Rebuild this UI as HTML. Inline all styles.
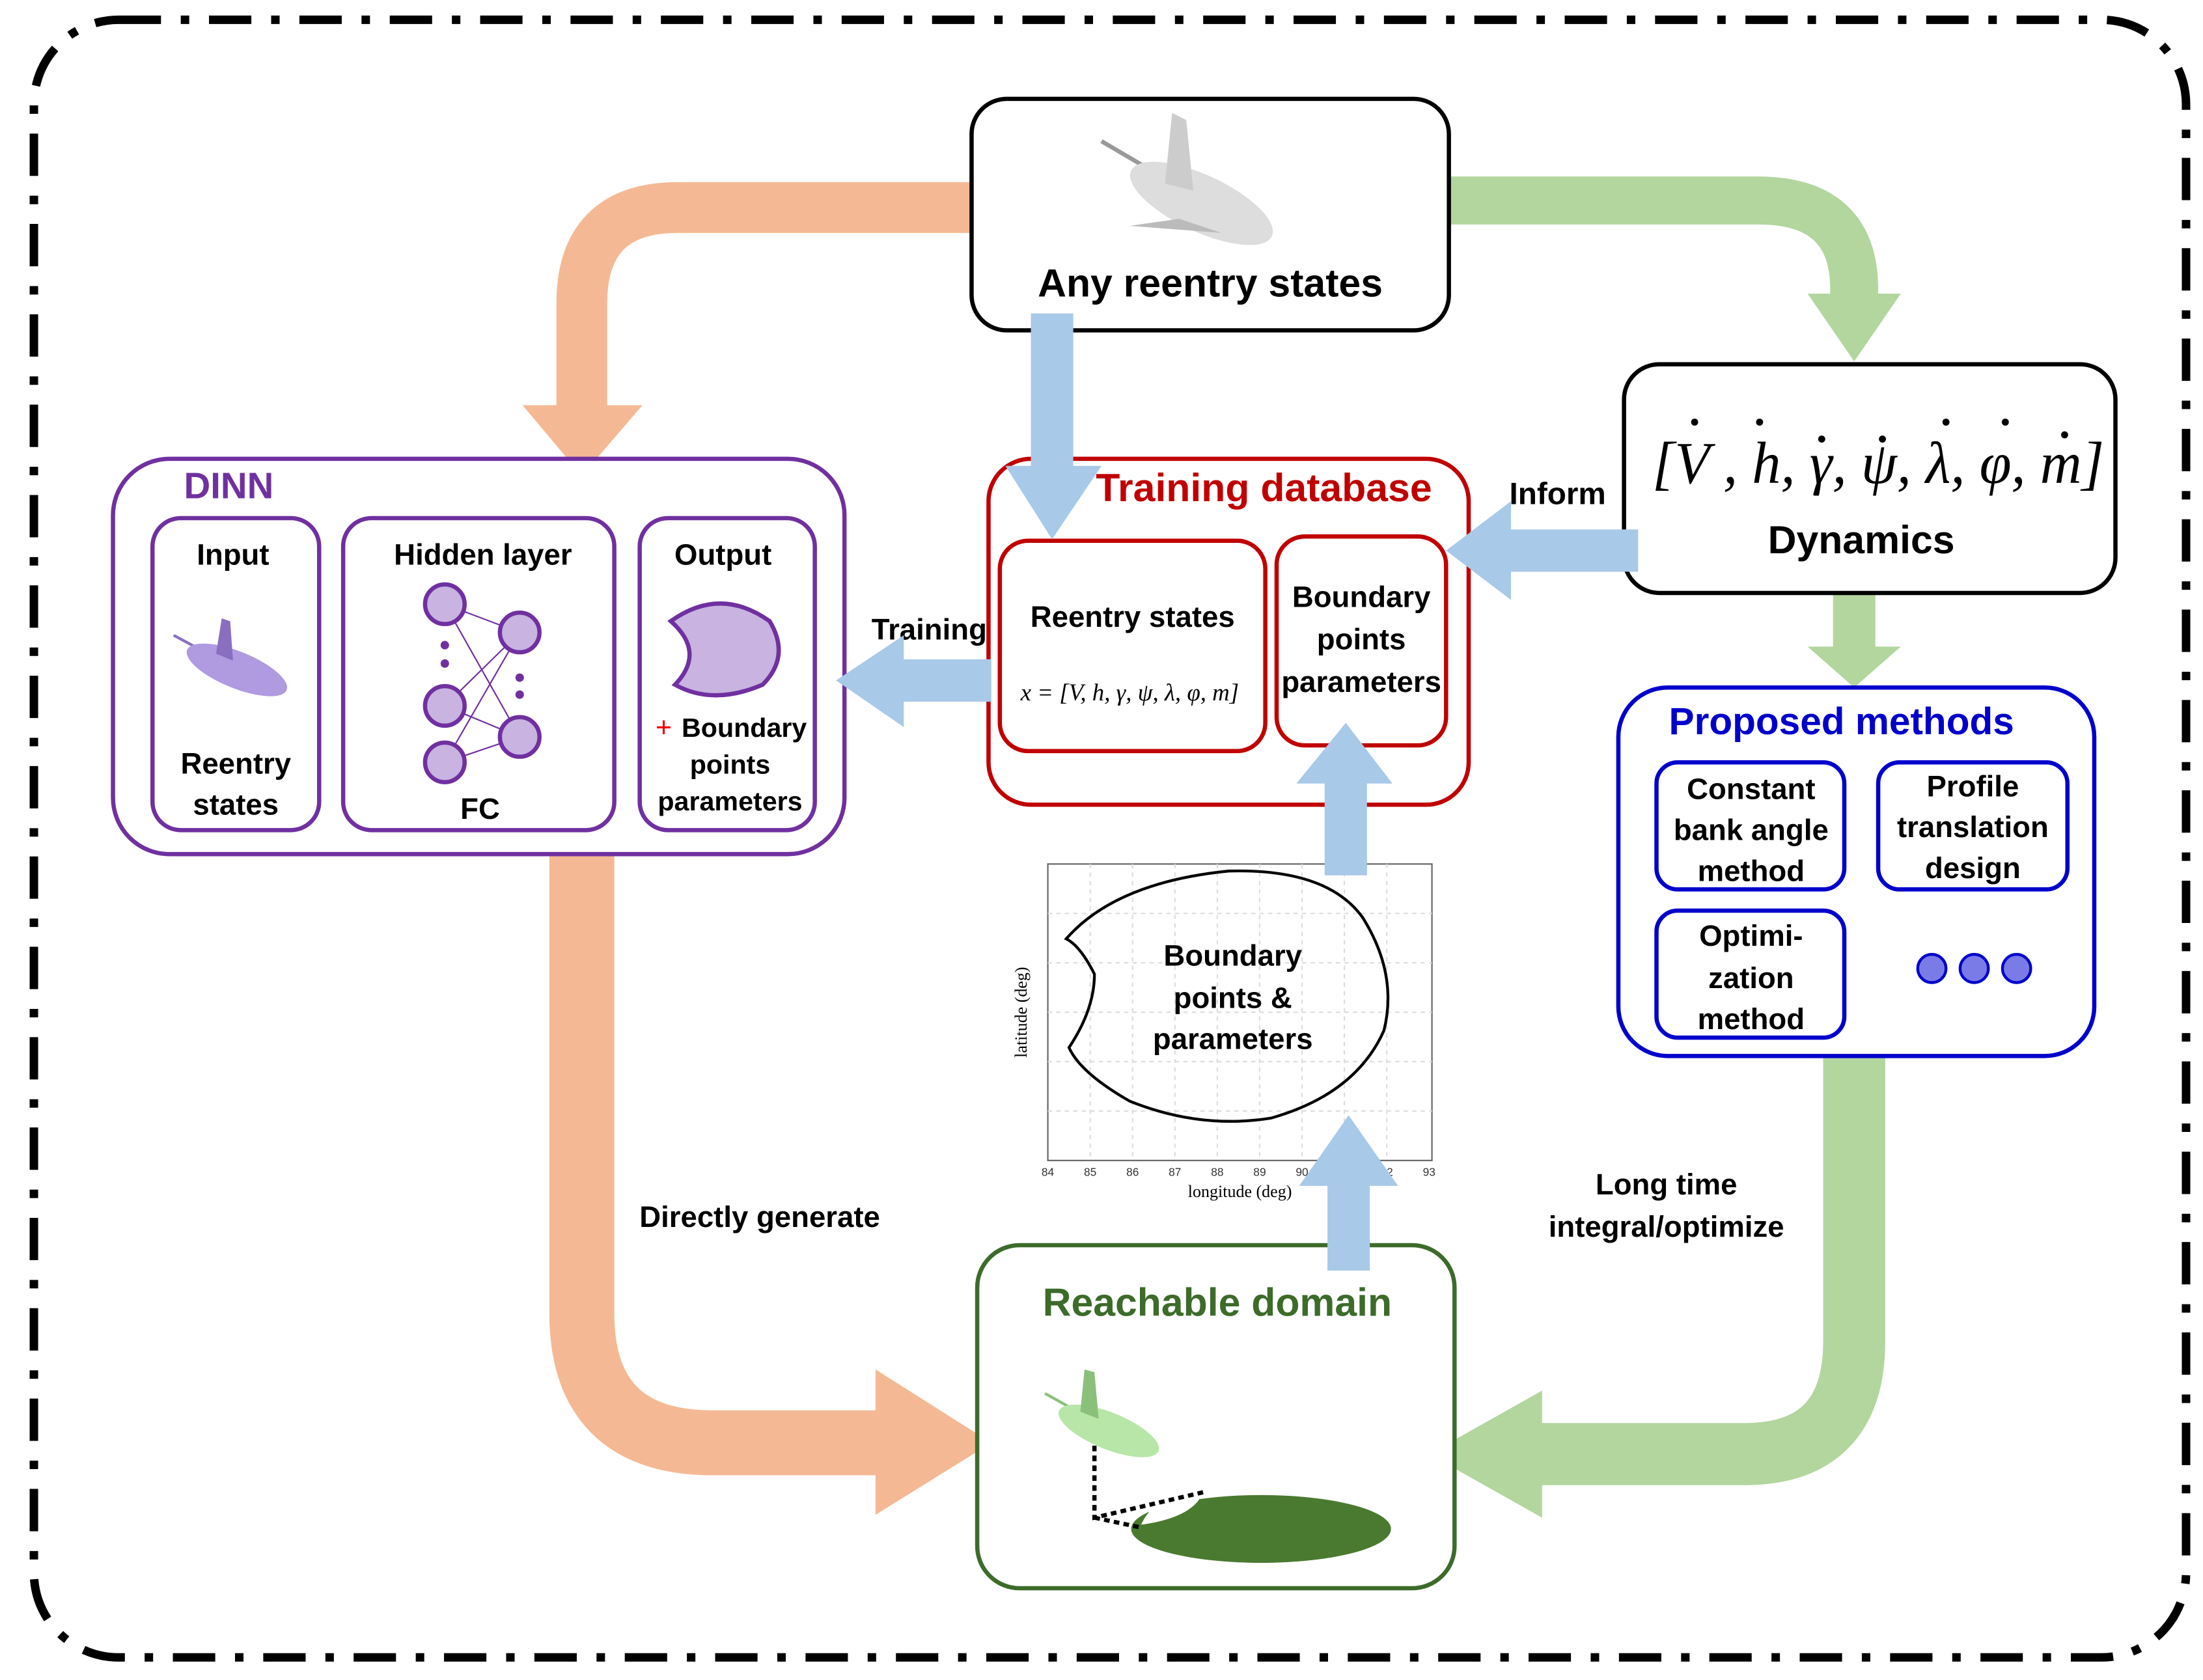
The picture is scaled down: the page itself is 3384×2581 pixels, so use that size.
<!DOCTYPE html>
<html><head><meta charset="utf-8"><style>
html,body{margin:0;padding:0;background:#fff}
svg{display:block}
text{font-family:"Liberation Sans",sans-serif}
</style></head><body>
<svg width="3384" height="2581" viewBox="0 0 1560 1190" preserveAspectRatio="none" xmlns="http://www.w3.org/2000/svg">
<rect x="24" y="14" width="1524" height="1160" rx="60" fill="none" stroke="#000" stroke-width="6" stroke-dasharray="30,14,6,14"/>

<!-- orange arrows -->
<path d="M708,147 H480 Q412,147 412,215 V292" fill="none" stroke="#f4b994" stroke-width="36"/>
<polygon points="370,287 455,287 412,337" fill="#f4b994"/>
<path d="M412,600 V930 Q412,1022 505,1022 H625" fill="none" stroke="#f4b994" stroke-width="46"/>
<polygon points="620,970 620,1073 702,1022" fill="#f4b994"/>

<!-- green arrows -->
<path d="M1008,142 H1245 Q1313,142 1313,205 V212" fill="none" stroke="#b3d69f" stroke-width="34"/>
<polygon points="1280,208 1346,208 1313,256" fill="#b3d69f"/>
<path d="M1313,418 V462" fill="none" stroke="#b3d69f" stroke-width="30"/>
<polygon points="1280,458 1346,458 1313,487" fill="#b3d69f"/>
<path d="M1313,735 V950 Q1313,1030 1235,1030 H1085" fill="none" stroke="#b3d69f" stroke-width="44"/>
<polygon points="1092,985 1092,1075 1012,1030" fill="#b3d69f"/>

<!-- top box -->
<rect x="688" y="70" width="338" height="164" rx="25" fill="#fff" stroke="#000" stroke-width="3"/>
<g transform="translate(855,135)">
<path d="M-75,-35 L10,15" stroke="#999" stroke-width="3"/>
<ellipse cx="0" cy="10" rx="55" ry="20" fill="#ddd" transform="rotate(25)"/>
<polygon points="-30,-5 -25,-55 -15,-50 -10,0" fill="#ccc"/>
<polygon points="-20,20 -55,25 10,30" fill="#bbb"/>
</g>
<text x="857" y="210" font-size="28" font-weight="bold" text-anchor="middle">Any reentry states</text>

<!-- dynamics -->
<rect x="1150" y="258" width="348" height="162" rx="25" fill="#fff" stroke="#000" stroke-width="3"/>
<text x="1170" y="342" font-size="42" font-style="italic" textLength="320" lengthAdjust="spacingAndGlyphs" style="font-family:'Liberation Serif',serif">[V , h, γ, ψ, λ, φ, m]</text>
<g fill="#000"><circle cx="1200" cy="299" r="2.5"/><circle cx="1246" cy="299" r="2.5"/><circle cx="1290" cy="311" r="2.5"/><circle cx="1333" cy="311" r="2.5"/><circle cx="1378" cy="299" r="2.5"/><circle cx="1420" cy="299" r="2.5"/><circle cx="1462" cy="308" r="2.5"/></g>
<text x="1318" y="392" font-size="28" font-weight="bold" text-anchor="middle">Dynamics</text>
<text x="1103" y="357" font-size="22" font-weight="bold" text-anchor="middle">Inform</text>

<!-- training db -->
<rect x="700" y="325" width="340" height="245" rx="30" fill="#fff" stroke="#c00000" stroke-width="3"/>
<text x="895" y="355" font-size="28" font-weight="bold" fill="#c00000" text-anchor="middle">Training database</text>
<rect x="708" y="383" width="188" height="149" rx="20" fill="none" stroke="#c00000" stroke-width="3"/>
<text x="802" y="444" font-size="21" font-weight="bold" text-anchor="middle">Reentry states</text>
<text x="800" y="496" font-size="17" font-style="italic" text-anchor="middle" style="font-family:'Liberation Serif',serif">x = [V, h, γ, ψ, λ, φ, m]</text>
<rect x="904" y="380" width="120" height="148" rx="20" fill="none" stroke="#c00000" stroke-width="3"/>
<text x="964" y="430" font-size="21" font-weight="bold" text-anchor="middle">Boundary</text>
<text x="964" y="460" font-size="21" font-weight="bold" text-anchor="middle">points</text>
<text x="964" y="490" font-size="21" font-weight="bold" text-anchor="middle">parameters</text>
<text x="658" y="453" font-size="21" font-weight="bold" text-anchor="middle">Training</text>

<!-- DINN -->
<rect x="80" y="325" width="518" height="280" rx="40" fill="#fff" stroke="#7030a0" stroke-width="3"/>
<text x="162" y="353" font-size="26" font-weight="bold" fill="#7030a0" text-anchor="middle">DINN</text>
<rect x="108" y="367" width="118" height="221" rx="20" fill="none" stroke="#7030a0" stroke-width="3"/>
<rect x="243" y="367" width="192" height="221" rx="20" fill="none" stroke="#7030a0" stroke-width="3"/>
<rect x="453" y="367" width="124" height="221" rx="20" fill="none" stroke="#7030a0" stroke-width="3"/>
<text x="165" y="400" font-size="21" font-weight="bold" text-anchor="middle">Input</text>
<text x="167" y="548" font-size="21" font-weight="bold" text-anchor="middle">Reentry</text>
<text x="167" y="577" font-size="21" font-weight="bold" text-anchor="middle">states</text>
<g transform="translate(165,468)">
<path d="M-42,-18 L10,10" stroke="#8a6fc0" stroke-width="2"/>
<ellipse cx="5" cy="5" rx="38" ry="13" fill="#b09ae0" transform="rotate(22)"/>
<polygon points="-12,-5 -8,-30 -2,-28 0,0" fill="#8a6fc0"/>
</g>
<text x="342" y="400" font-size="21" font-weight="bold" text-anchor="middle">Hidden layer</text>
<g stroke="#7030a0" stroke-width="1">
<line x1="315" y1="428" x2="368" y2="448"/><line x1="315" y1="428" x2="368" y2="522"/>
<line x1="315" y1="500" x2="368" y2="448"/><line x1="315" y1="500" x2="368" y2="522"/>
<line x1="315" y1="540" x2="368" y2="448"/><line x1="315" y1="540" x2="368" y2="522"/>
</g>
<g fill="#c9b3e0" stroke="#7030a0" stroke-width="3">
<circle cx="315" cy="428" r="14"/><circle cx="315" cy="500" r="14"/><circle cx="315" cy="540" r="14"/>
<circle cx="368" cy="448" r="14"/><circle cx="368" cy="522" r="14"/>
</g>
<g fill="#7030a0"><circle cx="315" cy="457" r="3"/><circle cx="315" cy="470" r="3"/><circle cx="368" cy="480" r="3"/><circle cx="368" cy="492" r="3"/></g>
<text x="340" y="580" font-size="21" font-weight="bold" text-anchor="middle">FC</text>
<text x="512" y="400" font-size="21" font-weight="bold" text-anchor="middle">Output</text>
<path d="M475,440 Q510,415 545,440 Q560,465 540,485 Q505,500 478,485 Q500,462 475,440 Z" fill="#c9b3e0" stroke="#7030a0" stroke-width="3"/>
<text x="470" y="522" font-size="20" fill="#e00" text-anchor="middle">+</text>
<text x="527" y="522" font-size="19" font-weight="bold" text-anchor="middle">Boundary</text>
<text x="517" y="548" font-size="19" font-weight="bold" text-anchor="middle">points</text>
<text x="517" y="574" font-size="19" font-weight="bold" text-anchor="middle">parameters</text>

<!-- plot -->
<rect x="742" y="612" width="272" height="210" fill="#fff" stroke="#666" stroke-width="1"/>
<g stroke="#ddd" stroke-width="1" stroke-dasharray="3,3">
<line x1="742" y1="647" x2="1014" y2="647"/><line x1="742" y1="682" x2="1014" y2="682"/><line x1="742" y1="717" x2="1014" y2="717"/><line x1="742" y1="752" x2="1014" y2="752"/><line x1="742" y1="787" x2="1014" y2="787"/>
<line x1="772" y1="612" x2="772" y2="822"/><line x1="802" y1="612" x2="802" y2="822"/><line x1="832" y1="612" x2="832" y2="822"/><line x1="862" y1="612" x2="862" y2="822"/><line x1="892" y1="612" x2="892" y2="822"/><line x1="922" y1="612" x2="922" y2="822"/><line x1="952" y1="612" x2="952" y2="822"/><line x1="982" y1="612" x2="982" y2="822"/>
</g>
<path d="M755,665 Q790,625 870,617 Q940,615 965,650 Q990,690 980,730 Q960,775 900,792 Q850,800 800,780 Q765,760 757,742 Q775,715 775,690 Q765,670 755,665 Z" fill="none" stroke="#000" stroke-width="2"/>
<text x="873" y="684" font-size="21" font-weight="bold" text-anchor="middle">Boundary</text>
<text x="873" y="714" font-size="21" font-weight="bold" text-anchor="middle">points &amp;</text>
<text x="873" y="743" font-size="21" font-weight="bold" text-anchor="middle">parameters</text>
<text x="878" y="848" font-size="12" text-anchor="middle" style="font-family:'Liberation Serif',serif">longitude (deg)</text>
<text x="727" y="717" font-size="12" text-anchor="middle" transform="rotate(-90 727 717)" style="font-family:'Liberation Serif',serif">latitude (deg)</text>
<g font-size="8" fill="#333" text-anchor="middle"><text x="742" y="833">84</text><text x="772" y="833">85</text><text x="802" y="833">86</text><text x="832" y="833">87</text><text x="862" y="833">88</text><text x="892" y="833">89</text><text x="922" y="833">90</text><text x="952" y="833">91</text><text x="982" y="833">92</text><text x="1012" y="833">93</text></g>

<!-- proposed methods -->
<rect x="1146" y="487" width="337" height="261" rx="35" fill="#fff" stroke="#0000cc" stroke-width="3"/>
<text x="1304" y="520" font-size="27" font-weight="bold" fill="#0000cc" text-anchor="middle">Proposed methods</text>
<rect x="1173" y="540" width="133" height="90" rx="15" fill="none" stroke="#0000cc" stroke-width="3"/>
<rect x="1330" y="540" width="134" height="90" rx="15" fill="none" stroke="#0000cc" stroke-width="3"/>
<rect x="1173" y="645" width="133" height="90" rx="15" fill="none" stroke="#0000cc" stroke-width="3"/>
<g font-size="21" font-weight="bold" text-anchor="middle">
<text x="1240" y="566">Constant</text><text x="1240" y="595">bank angle</text><text x="1240" y="624">method</text>
<text x="1397" y="564">Profile</text><text x="1397" y="593">translation</text><text x="1397" y="622">design</text>
<text x="1240" y="670">Optimi-</text><text x="1240" y="700">zation</text><text x="1240" y="729">method</text>
</g>
<g fill="#7b7be8" stroke="#0000cc" stroke-width="2"><circle cx="1368" cy="686" r="10"/><circle cx="1398" cy="686" r="10"/><circle cx="1428" cy="686" r="10"/></g>
<text x="1180" y="846" font-size="21" font-weight="bold" text-anchor="middle">Long time</text>
<text x="1180" y="876" font-size="21" font-weight="bold" text-anchor="middle">integral/optimize</text>
<text x="538" y="869" font-size="21" font-weight="bold" text-anchor="middle">Directly generate</text>

<!-- reachable domain -->
<rect x="692" y="882" width="338" height="243" rx="30" fill="#fff" stroke="#3d6b2a" stroke-width="3"/>
<text x="862" y="932" font-size="28" font-weight="bold" fill="#3d6b2a" text-anchor="middle">Reachable domain</text>
<ellipse cx="893" cy="1083" rx="92" ry="24" fill="#4a7a30"/>
<path d="M808,1080 Q820,1055 852,1057 Q845,1075 808,1080 Z" fill="#fff"/>
<path d="M775,1010 V1075 L852,1057 M775,1075 L808,1082" stroke="#000" stroke-width="3" stroke-dasharray="4,3" fill="none"/>
<g transform="translate(780,1005)">
<path d="M-40,-18 L10,10" stroke="#8bc07a" stroke-width="2"/>
<ellipse cx="8" cy="6" rx="38" ry="13" fill="#b8e6a8" transform="rotate(22)"/>
<polygon points="-15,-5 -12,-35 -5,-33 -2,0" fill="#8bc07a"/>
</g>

<!-- blue arrows (on top) -->
<path d="M745,222 V334" stroke="#a9c9e8" stroke-width="30"/>
<polygon points="712,330 780,330 745,382" fill="#a9c9e8"/>
<path d="M1160,390 H1066" stroke="#a9c9e8" stroke-width="30"/>
<polygon points="1070,355 1070,425 1024,390" fill="#a9c9e8"/>
<path d="M702,482 H636" stroke="#a9c9e8" stroke-width="30"/>
<polygon points="640,450 640,515 592,482" fill="#a9c9e8"/>
<path d="M953,620 V550" stroke="#a9c9e8" stroke-width="30"/>
<polygon points="918,555 986,555 953,512" fill="#a9c9e8"/>
<path d="M955,900 V836" stroke="#a9c9e8" stroke-width="30"/>
<polygon points="920,840 990,840 955,790" fill="#a9c9e8"/>
</svg>
</body></html>
